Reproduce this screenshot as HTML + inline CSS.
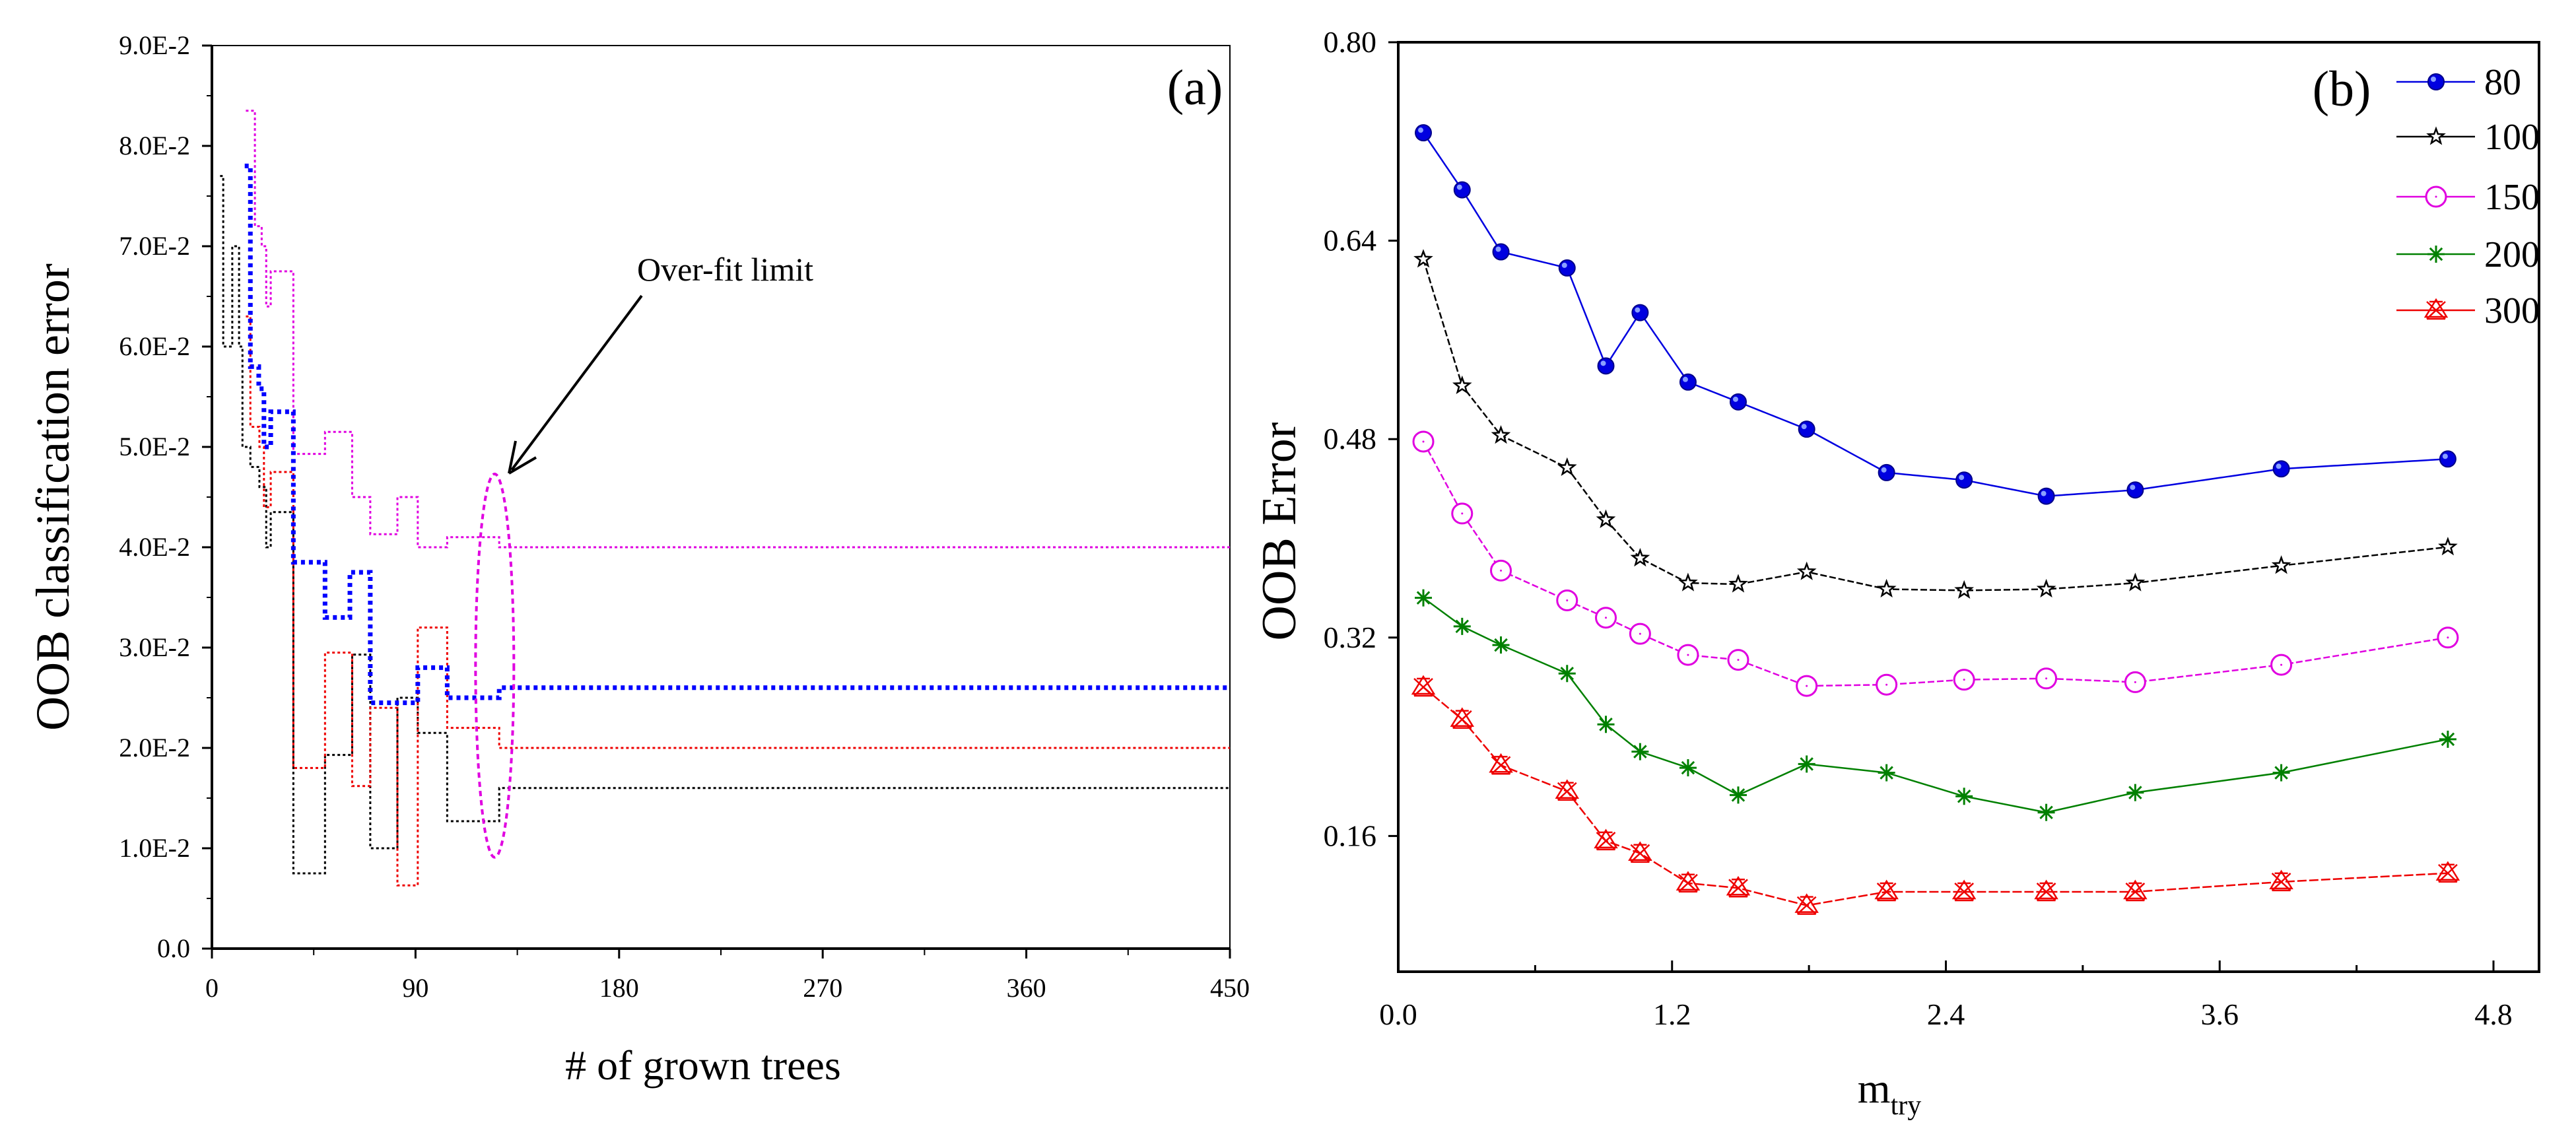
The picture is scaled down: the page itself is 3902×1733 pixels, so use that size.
<!DOCTYPE html>
<html><head><meta charset="utf-8"><style>
html,body{margin:0;padding:0;background:#fff;}
svg{display:block;font-family:"Liberation Serif",serif;font-weight:500;}
</style></head><body>
<svg id="c" width="3902" height="1733" viewBox="0 0 3902 1733"></svg>
<script>
// ---------- Panel (a) data ----------
const aBlackX=[3.6,5,9,12,13.5,17,21,24,26,36,50,62,70,82,91,104,127,450];
const aBlackY=[0.077,0.060,0.070,0.060,0.050,0.048,0.046,0.040,0.0435,0.0075,0.0193,0.0293,0.010,0.025,0.0215,0.0127,0.016];
const aRedX=[15,17,21,23,26,36,50,62,70,82,91,104,127,450];
const aRedY=[0.063,0.052,0.050,0.044,0.0475,0.018,0.0295,0.0162,0.024,0.0063,0.032,0.022,0.020];
const aBlueX=[14.5,17,20.7,23,26,36,50,61,70,91,104,127,450];
const aBlueY=[0.078,0.058,0.0558,0.050,0.0535,0.0385,0.033,0.0375,0.0245,0.028,0.025,0.026];
const aPinkX=[15,19,22,24,26,36,50,62,70,82,91,104,127,450];
const aPinkY=[0.0835,0.072,0.070,0.064,0.0675,0.0493,0.0515,0.045,0.0413,0.045,0.040,0.041,0.040];
const aXTicks=[0,90,180,270,360,450];
const aYTicks=[0,0.01,0.02,0.03,0.04,0.05,0.06,0.07,0.08,0.09];
const aYLabels=["0.0","1.0E-2","2.0E-2","3.0E-2","4.0E-2","5.0E-2","6.0E-2","7.0E-2","8.0E-2","9.0E-2"];
// ---------- Panel (b) data ----------
const bX=[0.11,0.28,0.45,0.74,0.91,1.06,1.27,1.49,1.79,2.14,2.48,2.84,3.23,3.87,4.60];
const b80=[0.727,0.681,0.631,0.618,0.539,0.582,0.526,0.510,0.488,0.453,0.447,0.434,0.439,0.456,0.464];
const b100=[0.625,0.523,0.483,0.457,0.415,0.384,0.364,0.363,0.373,0.359,0.358,0.359,0.364,0.378,0.393];
const b150=[0.478,0.420,0.374,0.350,0.336,0.323,0.306,0.302,0.281,0.282,0.286,0.287,0.284,0.298,0.320];
const b200=[0.352,0.329,0.314,0.291,0.250,0.228,0.215,0.193,0.218,0.211,0.192,0.179,0.195,0.211,0.238];
const b300=[0.280,0.254,0.217,0.196,0.156,0.146,0.122,0.118,0.104,0.115,0.115,0.115,0.115,0.123,0.130];
const bXTicks=[0,1.2,2.4,3.6,4.8];
const bXLabels=["0.0","1.2","2.4","3.6","4.8"];
const bYTicks=[0.16,0.32,0.48,0.64,0.80];
const bYLabels=["0.16","0.32","0.48","0.64","0.80"];
const bSeriesNames=["80","100","150","200","300"];

const svg=document.getElementById('c');
const NS='http://www.w3.org/2000/svg';
function mk(tag,attrs,parent){const e=document.createElementNS(NS,tag);for(const k in attrs)e.setAttribute(k,attrs[k]);(parent||svg).appendChild(e);return e;}

// ---- panel a axes
const ax=v=>321+v*(1863-321)/450;
const ay=v=>1437-v*(1437-69)/0.09;
const ga=mk('g',{});


let r=mk('rect',{x:321,y:69,width:1542,height:1368,fill:'none',stroke:'#000','stroke-width':2},ga);


mk('line',{x1:321,y1:69,x2:321,y2:1437,stroke:'#000','stroke-width':4},ga);
mk('line',{x1:321,y1:1437,x2:1863,y2:1437,stroke:'#000','stroke-width':4},ga);
aYTicks.forEach((v,i)=>{
  mk('line',{x1:306,y1:ay(v),x2:321,y2:ay(v),stroke:'#000','stroke-width':3},ga);
  if(i<aYTicks.length-1) mk('line',{x1:313,y1:ay(v+0.005),x2:321,y2:ay(v+0.005),stroke:'#000','stroke-width':2},ga);
  const t=mk('text',{x:288,y:ay(v)+13,'text-anchor':'end','font-size':40},ga);t.textContent=aYLabels[i];
  
  
});
aXTicks.forEach((v,i)=>{
  mk('line',{x1:ax(v),y1:1437,x2:ax(v),y2:1452,stroke:'#000','stroke-width':3},ga);
  if(i<aXTicks.length-1) mk('line',{x1:ax(v+45),y1:1437,x2:ax(v+45),y2:1447,stroke:'#000','stroke-width':2},ga);
  const t=mk('text',{x:ax(v),y:1510,'text-anchor':'middle','font-size':40},ga);t.textContent=String(v);
  
  
});
let t=mk('text',{x:0,y:0,transform:'translate(104,753) rotate(-90)','text-anchor':'middle','font-size':72},ga);t.textContent='OOB classification error';

t=mk('text',{x:1065,y:1635,'text-anchor':'middle','font-size':64},ga);t.textContent='# of grown trees';

t=mk('text',{x:1810,y:158,'text-anchor':'middle','font-size':76},ga);t.textContent='(a)';


function step(xs,ys){let d='M'+ax(xs[0])+','+ay(ys[0]);for(let i=1;i<xs.length;i++){d+=' H'+ax(xs[i]);if(i<ys.length)d+=' V'+ay(ys[i]);}return d;}
[[aBlackX,aBlackY,'#000',3,'4 4','series-black'],[aRedX,aRedY,'#e00',3,'4 4','series-red'],[aPinkX,aPinkY,'#e000e0',3,'4 4','series-magenta'],[aBlueX,aBlueY,'#00f',7,'6 6','series-blue']].forEach(s=>{
  const p=mk('path',{d:step(s[0],s[1]),fill:'none',stroke:s[2],'stroke-width':s[3],'stroke-dasharray':s[4]},ga);
  
  
});
const el=mk('ellipse',{cx:ax(125),cy:(ay(0.0473)+ay(0.0091))/2,rx:29,ry:(ay(0.0091)-ay(0.0473))/2,fill:'none',stroke:'#e000e0','stroke-width':4,'stroke-dasharray':'8 6'},ga);

const ar=mk('g',{},ga);

mk('line',{x1:972,y1:448,x2:775,y2:712,stroke:'#000','stroke-width':4},ar);
mk('path',{d:'M771,717 L781,668 M771,717 L812,693',stroke:'#000','stroke-width':4,fill:'none'},ar);
t=mk('text',{x:965,y:425,'font-size':50},ga);t.textContent='Over-fit limit';


// ---- panel b
const bxs=v=>2118+v*(3777-2118)/4.8;
const bys=v=>64+(0.8-v)*1878.75;
const gb=mk('g',{});


r=mk('rect',{x:2118,y:64,width:1728,height:1408,fill:'none',stroke:'#000','stroke-width':4},gb);

bYTicks.forEach((v,i)=>{
  mk('line',{x1:2103,y1:bys(v),x2:2118,y2:bys(v),stroke:'#000','stroke-width':3},gb);
  const tt=mk('text',{x:2085,y:bys(v)+15,'text-anchor':'end','font-size':46},gb);tt.textContent=bYLabels[i];
  
});
bXTicks.forEach((v,i)=>{
  mk('line',{x1:bxs(v),y1:1472,x2:bxs(v),y2:1455,stroke:'#000','stroke-width':3},gb);
  if(i<bXTicks.length-1) mk('line',{x1:bxs(v+0.6),y1:1472,x2:bxs(v+0.6),y2:1462,stroke:'#000','stroke-width':3},gb);
  const tt=mk('text',{x:bxs(v),y:1552,'text-anchor':'middle','font-size':46},gb);tt.textContent=bXLabels[i];
  
});
t=mk('text',{x:0,y:0,transform:'translate(1962,805) rotate(-90)','text-anchor':'middle','font-size':74},gb);t.textContent='OOB Error';

t=mk('text',{x:2862,y:1670,'text-anchor':'middle','font-size':64},gb);t.innerHTML='m<tspan font-size="42" dy="18">try</tspan>';

t=mk('text',{x:3547,y:160,'text-anchor':'middle','font-size':76},gb);t.textContent='(b)';


function marker(kind,x,y,col,parent){
  if(kind==='ball'){mk('circle',{cx:x,cy:y,r:12,fill:col,stroke:'#00008a','stroke-width':2},parent);mk('circle',{cx:x-4,cy:y-4,r:4,fill:'#8aa0ff'},parent);}
  else if(kind==='star'){let d='';for(let k=0;k<10;k++){const a=-Math.PI/2+k*Math.PI/5,rr=k%2?5:12;d+=(k?'L':'M')+(x+rr*Math.cos(a)).toFixed(1)+','+(y+rr*Math.sin(a)).toFixed(1);}mk('path',{d:d+'Z',fill:'#fff',stroke:col,'stroke-width':2.5},parent);}
  else if(kind==='circle'){mk('circle',{cx:x,cy:y,r:15,fill:'#fff',stroke:col,'stroke-width':3},parent);mk('circle',{cx:x,cy:y,r:1.5,fill:col},parent);}
  else if(kind==='ast'){for(let k=0;k<4;k++){const a=k*Math.PI/4;mk('line',{x1:x-13*Math.cos(a),y1:y-13*Math.sin(a),x2:x+13*Math.cos(a),y2:y+13*Math.sin(a),stroke:col,'stroke-width':3},parent);}}
  else if(kind==='hour'){mk('path',{d:`M${x-14},${y-13}L${x+14},${y+13}M${x+14},${y-13}L${x-14},${y+13}M${x-14},${y+13}H${x+14}M${x-10},${y-13}H${x+10}M${x},${y-16}L${x-16},${y+10}H${x+16}Z`,fill:'none',stroke:col,'stroke-width':2.5},parent);}
}
const bSeries=[[b80,'#0000e0','ball','6 0'],[b100,'#000','star','10 4'],[b150,'#e000e0','circle','10 4'],[b200,'#008000','ast','0'],[b300,'#e00','hour','14 4']];
bSeries.forEach((s,si)=>{
  const g=mk('g',{},gb);
  
  
  const pts=bX.map((x,i)=>bxs(x)+','+bys(s[0][i])).join(' ');
  mk('polyline',{points:pts,fill:'none',stroke:s[1],'stroke-width':2.5,'stroke-dasharray':s[3]},g);
  bX.forEach((x,i)=>marker(s[2],bxs(x),bys(s[0][i]),s[1],g));
});
// legend
const legY=[124,207,298,385,470];
const lg=mk('g',{},gb);


bSeries.forEach((s,i)=>{
  const e=mk('g',{},lg);
  
  
  mk('line',{x1:3630,y1:legY[i],x2:3749,y2:legY[i],stroke:s[1],'stroke-width':2.5},e);
  marker(s[2],3690,legY[i],s[1],e);
  const tt=mk('text',{x:3763,y:legY[i]+19,'font-size':56},e);tt.textContent=bSeriesNames[i];
});
</script>
</body></html>
